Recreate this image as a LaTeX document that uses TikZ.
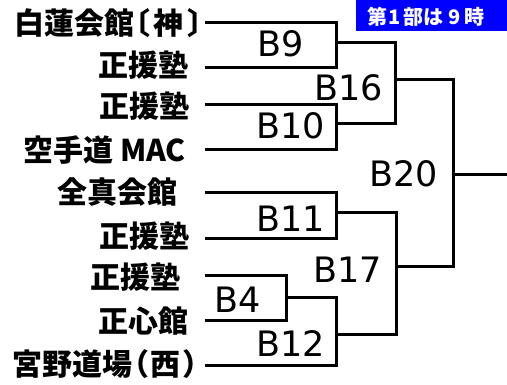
\documentclass[tikz,border=0pt]{standalone}
\usepackage{fontspec}
\newfontfamily\jpfont[RawFeature=+palt]{Noto Sans CJK JP}
\newfontfamily\labfont{DejaVu Sans}
\tikzset{
  team/.style={anchor=east,inner sep=0pt,font=\jpfont\bfseries\fontsize{30}{30}\selectfont},
  match/.style={inner sep=0pt,font=\labfont\fontsize{35}{35}\selectfont},
  bk/.style={line width=3pt,line join=miter}
}
\begin{document}
\begin{tikzpicture}[x=1pt,y=-1pt]
\useasboundingbox (0,0) rectangle (507,385);
%\draw[step=10,gray,very thin] (0,0) grid (507,385); %background grid

% note in the top corner
\node[fill=blue,text=white,anchor=north west,minimum width=200pt,minimum height=30.7pt,inner xsep=11pt,text depth=0pt,
  font=\jpfont\bfseries\fontsize{20}{20}\selectfont,align=left,text width=180pt] (note) at (356,0)
  {第\hspace{1pt}1\hspace{3pt}部は\hspace{5pt}9\hspace{4pt}時};

% teams
\node[team] (t1) at (203,23.5)  {白蓮会館〔\hspace{4pt}神\hspace{4pt}〕}; %1
\node[team] (t2) at (189,65)    {正援塾}; %2
\node[team] (t3) at (190,106.5) {正援塾}; %3
\node[team] (t4) at (186,150.5) {空手道 MAC}; %4
\node[team] (t5) at (178,192.5) {全真会館}; %5
\node[team] (t6) at (190,236.5) {正援塾}; %6
\node[team] (t7) at (181,277.5) {正援塾}; %7
\node[team] (t8) at (189,321.5) {正心館}; %8
\node[team] (t9) at (199,364.5) {宮野道場（\hspace{3pt}西\hspace{3pt}）}; %9

% line starts
\coordinate (e1) at (205,22.7);
\coordinate (e2) at (205,67.3);
\coordinate (e3) at (205,105);
\coordinate (e4) at (205,150);
\coordinate (e5) at (205,192.7);
\coordinate (e6) at (205,238.3);
\coordinate (e7) at (205,275.5);
\coordinate (e8) at (205,320.7);
\coordinate (e9) at (205,365.5);

% winners' points
\coordinate (b9)  at (336,42.7);
\coordinate (b10) at (336,124);
\coordinate (b11) at (336,212.5);
\coordinate (b4)  at (286,297.3);
\coordinate (b12) at (336,335);
\coordinate (b16) at (395,79.3);
\coordinate (b17) at (396,267);
\coordinate (b20) at (453,174.3);
\coordinate (fin) at (507,174.3);

% first round
\draw[bk] (e1) -| (b9) |- (e2);
\draw[bk] (e3) -| (b10) |- (e4);
\draw[bk] (e5) -| (b11) |- (e6);
\draw[bk] (e7) -| (b4) |- (e8);
\draw[bk] (b4) -| (b12) |- (e9);
% second round
\draw[bk] (b9) -| (b16) |- (b10);
\draw[bk] (b11) -| (b17) |- (b12);
% final
\draw[bk] (b16) -| (b20) |- (b17);
\draw[bk] (b20) -- (fin);

% match numbers
\node[match] (m9)  at (280.5,43.5)  {B9};
\node[match] (m10) at (291,125.5)   {B10};
\node[match] (m11) at (291,218.5)   {B11};
\node[match] (m4)  at (237.5,300)   {B4};
\node[match] (m12) at (291,343.5)   {B12};
\node[match] (m16) at (349,87.5)    {B16};
\node[match] (m17) at (348,270)     {B17};
\node[match] (m20) at (404,173.5)   {B20};
\end{tikzpicture}
\end{document}
